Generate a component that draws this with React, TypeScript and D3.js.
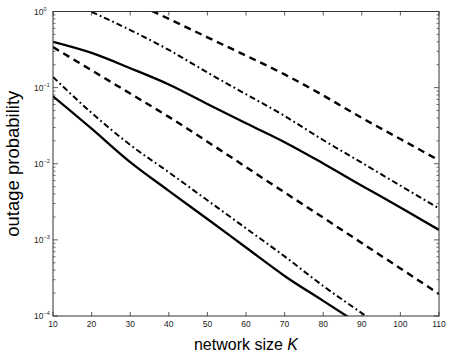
import React from 'react';
import * as d3 from 'd3';

// network size K
const kValues = [10, 20, 30, 40, 50, 60, 70, 80, 90, 100, 110];

// outage probability curves (null = no point)
const solidUpper = [0.40, 0.286, 0.18, 0.11, 0.061, 0.034, 0.0192, 0.0101, 0.00515, 0.00267, 0.00135];
const dashedUpper = [null, null, 1.39, 0.80, 0.458, 0.263, 0.149, 0.079, 0.040, 0.0211, 0.0111];
const dashDotUpper = [null, 0.99, 0.571, 0.313, 0.158, 0.0819, 0.0424, 0.0205, 0.0103, 0.00516, 0.00259];
const dashedLower = [0.341, 0.169, 0.0836, 0.0413, 0.0195, 0.00905, 0.0042, 0.00196, 0.000908, 0.000422, 0.000195];
const dashDotLower = [0.138, 0.0466, 0.0177, 0.00773, 0.00331, 0.00142, 0.000607, 0.000248, 0.000109, 0.0000485, null];
const solidLower = [0.0769, 0.0289, 0.0105, 0.00441, 0.00188, 0.000794, 0.000336, 0.000158, 0.0000744, null, null];

const xTicks = [10, 20, 30, 40, 50, 60, 70, 80, 90, 100, 110];
const yExponents = [0, -1, -2, -3, -4];

const series = [
  { values: solidUpper, dash: null, width: 2.3 },
  { values: dashedUpper, dash: '7,5', width: 2.4 },
  { values: dashDotUpper, dash: '6,3,1.8,3', width: 2.0 },
  { values: dashedLower, dash: '7,5', width: 2.4 },
  { values: dashDotLower, dash: '6,3,1.8,3', width: 2.0 },
  { values: solidLower, dash: null, width: 2.3 },
];

export default function App() {
  const W = 450;
  const H = 357;
  const margin = { top: 11.5, right: 11, bottom: 41, left: 53 };
  const x0 = margin.left;
  const x1 = W - margin.right;
  const y0 = margin.top;
  const y1 = H - margin.bottom;

  const x = d3.scaleLinear().domain([10, 110]).range([x0, x1]);
  const y = d3.scaleLog().domain([1e-4, 1]).range([y1, y0]);

  const line = d3.line<any>()
    .defined((d) => d.v != null)
    .x((d) => x(d.k))
    .y((d) => y(d.v))
    .curve(d3.curveMonotoneX);

  // minor ticks 2..9 per decade
  const minor: number[] = [];
  yExponents.slice(0, 4).forEach((e) => {
    for (let m = 2; m <= 9; m += 1) minor.push(m * 10 ** (e - 1));
  });

  const axisColor = '#333';
  const font = 'Liberation Sans, Arial, Helvetica, sans-serif';

  return (
    <svg width={W} height={H} style={{ position: 'absolute', left: 0, top: 0, background: '#fff' }}>
      <defs>
        <clipPath id="plot-clip">
          <rect x={x0} y={y0} width={x1 - x0} height={y1 - y0} />
        </clipPath>
      </defs>
      <rect x={0} y={0} width={W} height={H} fill="#fff" />

      <g clipPath="url(#plot-clip)">
        {series.map((s, i) => (
          <path
            key={i}
            d={line(kValues.map((k, j) => ({ k, v: s.values[j] }))) || ''}
            fill="none"
            stroke="#000"
            strokeWidth={s.width}
            strokeDasharray={s.dash || undefined}
          />
        ))}
      </g>

      {/* box */}
      <rect x={x0} y={y0} width={x1 - x0} height={y1 - y0} fill="none" stroke={axisColor} strokeWidth={1} />

      {/* x ticks */}
      {xTicks.map((t) => (
        <g key={`x${t}`}>
          <line x1={x(t)} x2={x(t)} y1={y1} y2={y1 - 4} stroke={axisColor} strokeWidth={0.8} />
          <line x1={x(t)} x2={x(t)} y1={y0} y2={y0 + 4} stroke={axisColor} strokeWidth={0.8} />
          <text x={x(t)} y={y1 + 11} textAnchor="middle" fontSize={8.5} fontFamily={font} fill="#222">{t}</text>
        </g>
      ))}

      {/* y ticks */}
      {yExponents.map((e) => (
        <g key={`y${e}`}>
          <line x1={x0} x2={x0 + 5} y1={y(10 ** e)} y2={y(10 ** e)} stroke={axisColor} strokeWidth={0.8} />
          <line x1={x1} x2={x1 - 5} y1={y(10 ** e)} y2={y(10 ** e)} stroke={axisColor} strokeWidth={0.8} />
          <text x={34} y={y(10 ** e) + 3} fontSize={8.5} fontFamily={font} fill="#222">
            10
            <tspan fontSize={5.5} dy={-4}>{e === 0 ? '0' : `\u2212${-e}`}</tspan>
          </text>
        </g>
      ))}
      {minor.map((v) => (
        <g key={`m${v}`}>
          <line x1={x0} x2={x0 + 2.5} y1={y(v)} y2={y(v)} stroke={axisColor} strokeWidth={0.7} />
          <line x1={x1} x2={x1 - 2.5} y1={y(v)} y2={y(v)} stroke={axisColor} strokeWidth={0.7} />
        </g>
      ))}

      {/* axis titles */}
      <text x={(x0 + x1) / 2} y={350} textAnchor="middle" fontSize={16} fontFamily={font} fill="#000">
        network size <tspan fontStyle="italic">K</tspan>
      </text>
      <text
        transform={`translate(19,${(y0 + y1) / 2}) rotate(-90)`}
        textAnchor="middle"
        fontSize={18.5}
        fontFamily={font}
        fill="#000"
      >
        outage probability
      </text>
    </svg>
  );
}
